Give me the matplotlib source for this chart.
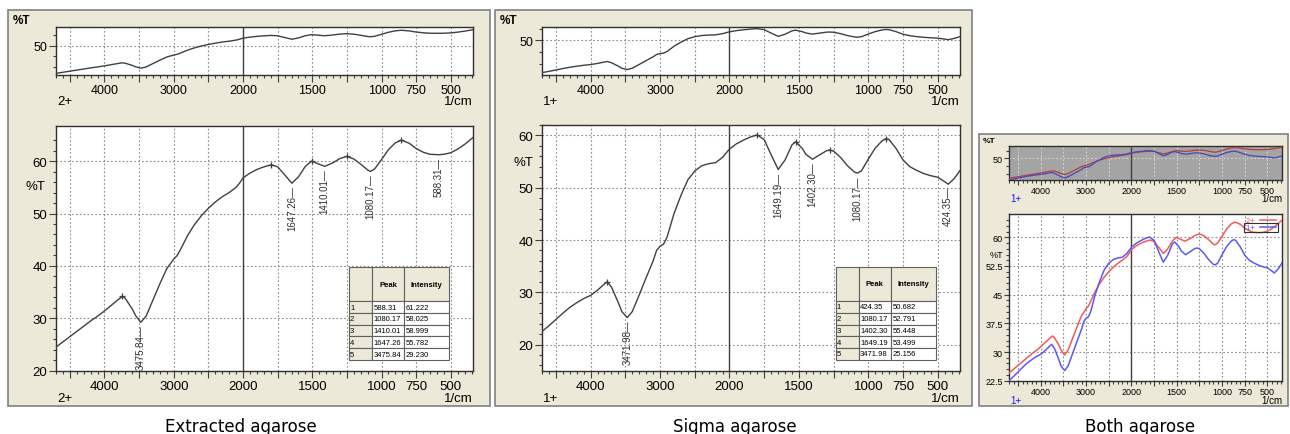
import numpy as np
import matplotlib
matplotlib.use('Agg')
import matplotlib.pyplot as plt
from matplotlib.patches import Rectangle
from matplotlib.ticker import FixedLocator, FixedFormatter, NullFormatter
from matplotlib.transforms import Bbox
import matplotlib.transforms as mtransforms

# ---------------- data ----------------
ext_wn = [4700, 4600, 4500, 4400, 4300, 4200, 4100, 4000, 3900, 3800, 3740, 3700, 3600, 3550,
          3475.84, 3400, 3300, 3200, 3100, 3000, 2950, 2900, 2800, 2700, 2600, 2500, 2400,
          2300, 2200, 2100, 2050, 2000, 1950, 1900, 1850, 1795, 1750, 1700, 1647.26, 1600,
          1550, 1505, 1450, 1410.01, 1350, 1300, 1251, 1200, 1150, 1100, 1080.17, 1050,
          1000, 950, 900, 857, 800, 750, 700, 650, 588.31, 550, 500, 450, 400, 340]
ext_t = [24.5, 25.5, 26.5, 27.5, 28.5, 29.5, 30.4, 31.4, 32.5, 33.6, 34.2, 33.8, 31.8, 30.5,
         29.23, 30.4, 33.5, 36.6, 39.5, 41.3, 42.0, 43.2, 45.8, 47.9, 49.6, 51.0, 52.2,
         53.2, 54.0, 55.0, 55.8, 56.8, 57.7, 58.4, 58.9, 59.3, 58.9, 57.4, 55.78, 57.0,
         59.0, 60.0, 59.4, 59.0, 59.7, 60.5, 60.9, 60.4, 59.4, 58.3, 58.03, 58.5,
         60.3, 62.2, 63.5, 64.0, 63.4, 62.4, 61.7, 61.3, 61.22, 61.3, 61.6, 62.3, 63.2, 64.5]

sig_wn = [4700, 4600, 4500, 4400, 4300, 4200, 4100, 4000, 3900, 3800, 3760, 3700, 3600, 3550,
          3471.98, 3400, 3300, 3200, 3100, 3050, 3000, 2950, 2900, 2800, 2700, 2600, 2500,
          2400, 2300, 2200, 2100, 2000, 1950, 1900, 1850, 1800, 1750, 1700, 1649.19, 1600,
          1550, 1524, 1475, 1450, 1402.30, 1350, 1300, 1278, 1250, 1200, 1150, 1100, 1080.17,
          1050, 1000, 950, 900, 872, 850, 800, 750, 700, 650, 600, 550, 500, 470, 424.35,
          380, 340]
sig_t = [22.5, 23.6, 24.8, 26.0, 27.1, 28.0, 28.8, 29.4, 30.4, 31.6, 32.0, 31.0, 28.0, 26.3,
         25.16, 26.3, 29.5, 32.8, 36.0, 38.0, 38.8, 39.2, 40.5, 45.0, 48.5, 51.5, 53.2,
         54.2, 54.6, 54.8, 55.8, 57.4, 58.4, 59.1, 59.7, 60.1, 59.2, 56.3, 53.50, 55.3,
         58.2, 58.8, 57.5, 56.4, 55.45, 56.3, 57.1, 57.2, 57.0, 55.8, 54.2, 53.0, 52.79,
         53.2, 55.5, 57.6, 59.0, 59.4, 59.2, 57.5, 55.3, 54.0, 53.3, 52.7, 52.3, 52.0, 51.5,
         50.68, 51.8, 53.3]

ext_max_wn = [3740, 1795, 1505, 1251, 857]
ext_max_t = [34.2, 59.3, 60.0, 60.9, 64.0]
sig_max_wn = [3760, 1800, 1524, 1278, 872]
sig_max_t = [32.0, 60.1, 58.8, 57.2, 59.4]

ext_peaks = [588.31, 1080.17, 1410.01, 1647.26, 3475.84]
ext_int = [61.222, 58.025, 58.999, 55.782, 29.230]
sig_peaks = [424.35, 1080.17, 1402.30, 1649.19, 3471.98]
sig_int = [50.682, 52.791, 55.448, 53.499, 25.156]

x_major = [4500, 4000, 3500, 3000, 2500, 2000, 1750, 1500, 1250, 1000, 750, 500]
x_labeled = [4000, 3000, 2000, 1500, 1000, 750, 500]
captions = ['Extracted agarose', 'Sigma agarose', 'Both agarose']
series_names = ['2+', '1+']

# ---------------- figure ----------------
W, H = 1290, 435
fig = plt.figure(figsize=(W / 100, H / 100), dpi=100)
fig.patch.set_facecolor('white')
BEIGE = '#ECE9D8'
DARK = '#404040'
FONT = 'Liberation Sans'


def fwd(w):
    w = np.asarray(w, dtype=float)
    return np.where(w >= 2000, w, 2 * w - 2000)


def inv(p):
    p = np.asarray(p, dtype=float)
    return np.where(p >= 2000, p, (p + 2000) / 2)


def add_ax(x0, y0, x1, y1):
    return fig.add_axes([x0 / W, 1 - y1 / H, (x1 - x0) / W, (y1 - y0) / H])


def ftext(x, y, s, **kw):
    kw.setdefault('family', FONT)
    return fig.text(x / W, 1 - y / H, s, **kw)


def frame(x0, y0, x1, y1):
    fig.add_artist(Rectangle((x0 / W, 1 - y1 / H), (x1 - x0) / W, (y1 - y0) / H,
                             transform=fig.transFigure, facecolor=BEIGE,
                             edgecolor='#808080', lw=1.2, zorder=0))


def style(ax, fs, ylim, ymaj, ymin, ylabels=None, face='white', gridc='#8c8c8c'):
    ax.set_facecolor(face)
    ax.set_xscale('function', functions=(fwd, inv))
    ax.set_xlim(4700, 340)
    ax.set_ylim(*ylim)
    ax.xaxis.set_major_locator(FixedLocator(x_major))
    ax.xaxis.set_major_formatter(FixedFormatter([str(v) if v in x_labeled else '' for v in x_major]))
    ax.xaxis.set_minor_locator(FixedLocator(list(range(4700, 2000, -100)) + list(range(1950, 340, -50))))
    ax.xaxis.set_minor_formatter(NullFormatter())
    ax.yaxis.set_major_locator(FixedLocator(ymaj))
    if ylabels is not None:
        ax.yaxis.set_major_formatter(FixedFormatter(ylabels))
    ax.yaxis.set_minor_locator(FixedLocator(ymin))
    ax.yaxis.set_minor_formatter(NullFormatter())
    ax.tick_params(which='major', length=5, width=0.8, color=DARK, labelsize=fs, pad=1.5)
    ax.tick_params(which='minor', length=2.5, width=0.8, color=DARK)
    for lab in ax.get_xticklabels() + ax.get_yticklabels():
        lab.set_family(FONT)
    ax.grid(True, which='major', linestyle=(0, (1.5, 2)), color=gridc, lw=0.8)
    ax.axvline(2000, color=DARK, lw=1.0, zorder=3)
    for sp in ax.spines.values():
        sp.set_color('#303030')
        sp.set_linewidth(1.0)
    ax.set_axisbelow(True)


def peak_table(ax, peaks, ints):
    cells = [[str(i + 1), f'{p:.2f}', f'{v:.3f}'] for i, (p, v) in enumerate(zip(peaks, ints))]
    tab = ax.table(cellText=cells, colLabels=['', 'Peak', 'Intensity'],
                   colWidths=[0.23, 0.32, 0.45], cellLoc='left', colLoc='center',
                   bbox=[0.703, 0.044, 0.239, 0.379])
    tab.auto_set_font_size(False)
    tab.set_fontsize(5.5)
    tab.set_zorder(10)
    for (r, c), cell in tab.get_celld().items():
        cell.set_edgecolor('#606060')
        cell.set_linewidth(0.8)
        cell.get_text().set_family(FONT)
        cell.PAD = 0.04
        if r == 0:
            cell.set_height(cell.get_height() * 2.9)
            cell.set_facecolor(BEIGE)
            cell.get_text().set_weight('bold')
        elif c == 0:
            cell.set_facecolor(BEIGE)
        else:
            cell.set_facecolor('white')


frame_x0 = {'2+': 8, '1+': 495}


def single_panel(x0, xr, frame_x1, wn, t, mx_wn, mx_t, pk, pint, name, top_ylim, bot_ylim,
                 bot_top, pct_x, pct_val, caption, cap_x):
    frame(frame_x0[name], 11, frame_x1, 407)
    axt = add_ax(x0, 28, xr, 76)
    style(axt, 9, top_ylim, [50], [30, 40, 60])
    axt.plot(wn, t, color=DARK, lw=1.0, zorder=4)
    ftext(frame_x0[name] + 5, 21, '%T', ha='left', va='center', fontsize=8.5, weight='bold')
    ftext(x0 + 1, 102, name, ha='left', va='center', fontsize=9.5)
    ftext(xr, 102, '1/cm', ha='right', va='center', fontsize=9.5)
    ax = add_ax(x0, bot_top, xr, 371.7)
    style(ax, 9.5, bot_ylim, [20, 30, 40, 50, 60], list(np.arange(16, 66, 2)))
    ax.plot(wn, t, color=DARK, lw=1.0, zorder=4)
    ax.plot(mx_wn, mx_t, linestyle='none', marker='+', ms=4, mew=0.9, color=DARK, zorder=5)
    for p, v in zip(pk, pint):
        ax.annotate(f'{p:.2f}\u2014', xy=(p, v), xytext=(0, -1.5), textcoords='offset points',
                    rotation=90, ha='center', va='top', fontsize=7, color='#303030',
                    family=FONT, zorder=6)
    ax.text(pct_x, pct_val, '%T',
            transform=mtransforms.blended_transform_factory(ax.transAxes, ax.transData),
            ha='right', va='center', fontsize=9.5, family=FONT)
    peak_table(ax, pk, pint)
    ftext(x0 + 1, 399, name, ha='left', va='center', fontsize=9.5)
    ftext(xr, 399, '1/cm', ha='right', va='center', fontsize=9.5)
    fig.text(cap_x / W, 1 - 427 / H, caption, ha='center', va='center', fontsize=12,
             family='DejaVu Sans')


single_panel(56, 473, 490, ext_wn, ext_t, ext_max_wn, ext_max_t, ext_peaks, ext_int, '2+',
             (23, 67), (20, 66.7), 127, -0.026, 55.2, captions[0], 241)
single_panel(542, 960, 972, sig_wn, sig_t, sig_max_wn, sig_max_t, sig_peaks, sig_int, '1+',
             (20.5, 61.5), (15, 62), 126, -0.021, 55.0, captions[1], 735)

# ---------------- both panel ----------------
frame(979, 135, 1288, 407)
RED_D, BLUE_D = '#b83c3c', '#4646c0'
RED, BLUE = '#f25a5a', '#5a5af2'
axt = add_ax(1009, 147, 1282, 181)
style(axt, 6.5, (22.3, 66), [50], [30, 40, 60], face='#a4a4a4', gridc='#d8d8d8')
axt.plot(ext_wn, ext_t, color=RED_D, lw=0.9, zorder=4)
axt.plot(sig_wn, sig_t, color=BLUE_D, lw=0.9, zorder=4)
axt.tick_params(which='major', length=3.5, pad=1)
axt.tick_params(which='minor', length=2)
ftext(983, 141.5, '%T', ha='left', va='center', fontsize=6, weight='bold')
ftext(1010, 199, series_names[1], ha='left', va='center', fontsize=7, color='#1a1aff')
ftext(1282, 199, '1/cm', ha='right', va='center', fontsize=7)

ax3 = add_ax(1009, 215, 1282, 381.7)
style(ax3, 6.5, (22.5, 66.1), [22.5, 30, 37.5, 45, 52.5, 60], list(np.arange(22.5, 66, 1.5)),
      ylabels=['22.5', '30', '37.5', '45', '52.5', '60'])
ax3.tick_params(which='major', length=3.5, pad=1)
ax3.tick_params(which='minor', length=2)
l1, = ax3.plot(ext_wn, ext_t, color=RED, lw=1.1, zorder=4, label=series_names[0])
l2, = ax3.plot(sig_wn, sig_t, color=BLUE, lw=1.1, zorder=4, label=series_names[1])
leg = ax3.legend(handles=[l1, l2], loc='upper right', bbox_to_anchor=(0.995, 1.005),
                 frameon=False, fontsize=5, markerfirst=False, handlelength=2.4,
                 labelspacing=0.15, borderpad=0.1, handletextpad=0.6, labelcolor='linecolor')
leg.set_zorder(12)
ax3.text(-0.02, 55.4, '%T',
         transform=mtransforms.blended_transform_factory(ax3.transAxes, ax3.transData),
         ha='right', va='center', fontsize=6.5, family=FONT)
ftext(1010, 401, series_names[1], ha='left', va='center', fontsize=7, color='#1a1aff')
ftext(1282, 401, '1/cm', ha='right', va='center', fontsize=7)
fig.text(1140 / W, 1 - 427 / H, captions[2], ha='center', va='center', fontsize=12,
         family='DejaVu Sans')

# box around the selected (1+) legend entry
fig.canvas.draw()
r = fig.canvas.get_renderer()
bb = Bbox.union([leg.get_texts()[1].get_window_extent(r),
                 leg.get_lines()[1].get_window_extent(r)])
bb = bb.expanded(1.0, 1.0).padded(1.5)
bba = bb.transformed(ax3.transAxes.inverted())
ax3.add_patch(Rectangle((bba.x0, bba.y0), bba.width, bba.height, transform=ax3.transAxes,
                        facecolor='none', edgecolor='#303030', lw=0.8, zorder=13))

fig.savefig('out.png', dpi=100, facecolor='white')
